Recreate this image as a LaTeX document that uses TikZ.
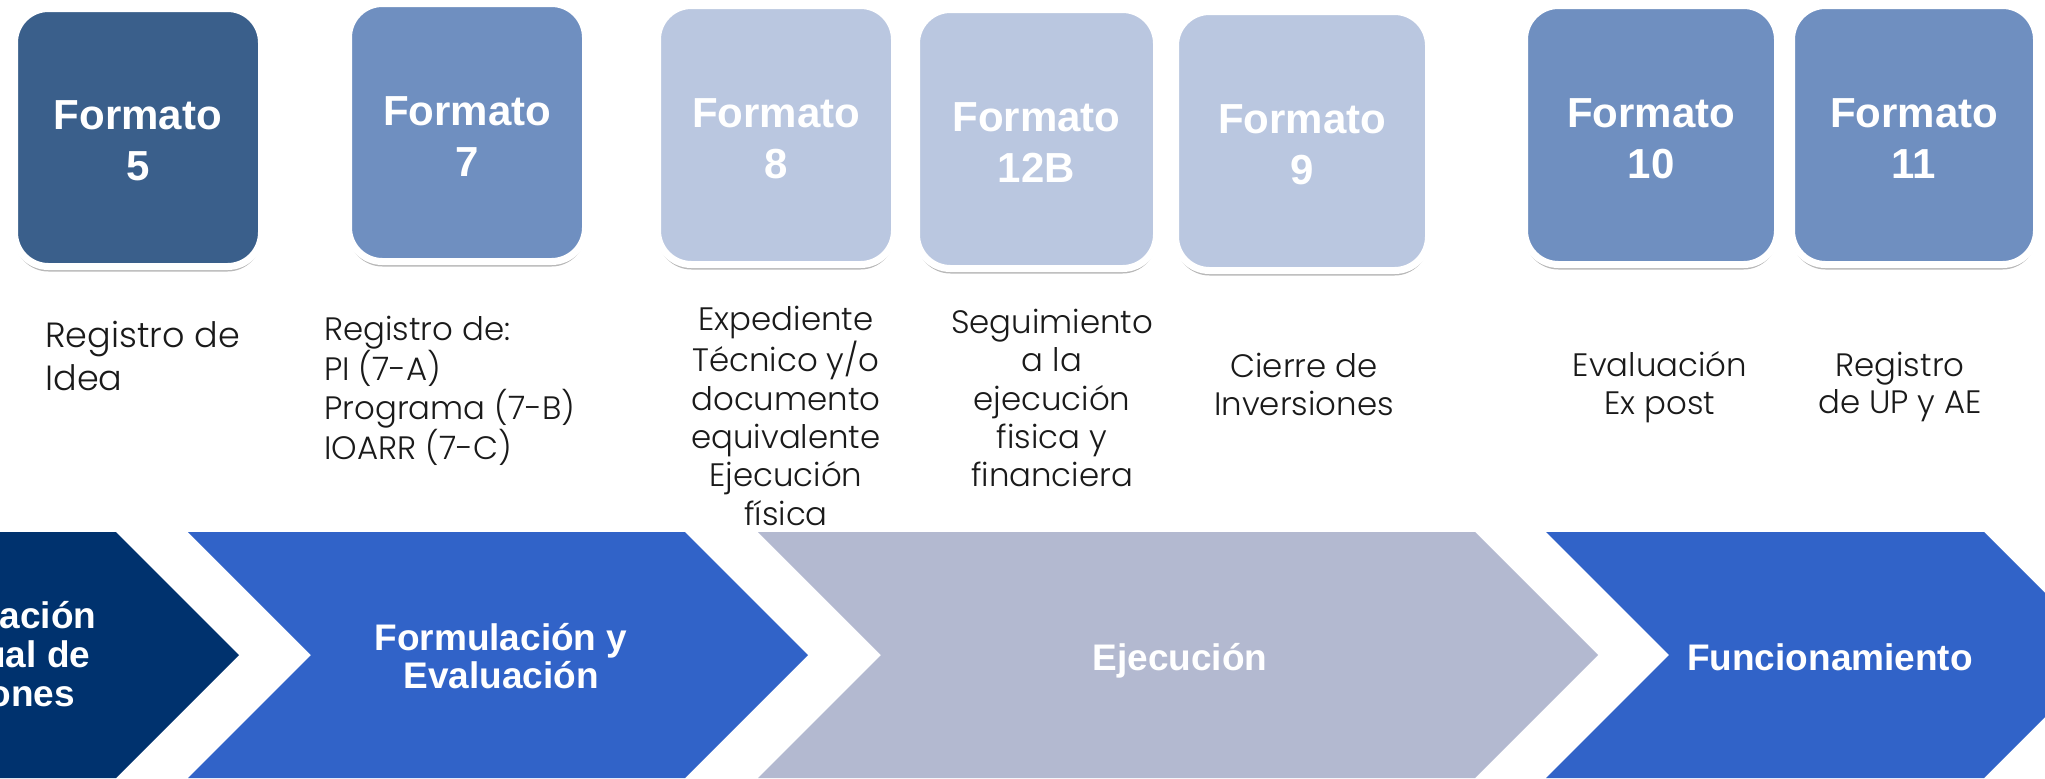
\documentclass[tikz,border=0pt]{standalone}
\usepackage{fontspec}
\setmainfont{Liberation Sans}
\IfFontExistsTF{Poppins Light}{\newfontfamily\capfont{Poppins Light}}{\newfontfamily\capfont{Poppins}}
\usetikzlibrary{shadows}
\definecolor{cFdark}{HTML}{3A5F8B}
\definecolor{cFmid}{HTML}{6F8FC0}
\definecolor{cFlight}{HTML}{BAC7E0}
\definecolor{cNavy}{HTML}{00326E}
\definecolor{cRoyal}{HTML}{3163C8}
\definecolor{cGrey}{HTML}{B3B9D0}
\definecolor{cText}{HTML}{1A1A1A}
\newcommand{\ftop}{\rule{0pt}{18pt}}
\begin{document}
\begin{tikzpicture}[x=0.5pt,y=-0.5pt,
  fbox/.style={rounded corners=17pt, draw=white, line width=3.5pt, inner sep=0pt,
    align=center, text=white, font=\bfseries\fontsize{21}{25.5}\selectfont,
    drop shadow={shadow xshift=0pt, shadow yshift=-2.5pt, opacity=0.28, fill=black}},
  capbig/.style={font=\capfont\fontsize{17.5}{21.5}\selectfont, text=cText, inner sep=0pt, align=left},
  capsm/.style={font=\capfont\fontsize{16.2}{19.2}\selectfont, text=cText, inner sep=0pt, align=center},
  chevtext/.style={text=white, font=\bfseries\fontsize{18.5}{19.3}\selectfont, align=center, inner sep=0pt}
]
\useasboundingbox (0,0) rectangle (2045,778);
\fill[white] (0,0) rectangle (2045,778);
\begin{scope}
\clip (0,0) rectangle (2045,778);
% chevrons
\fill[cNavy]  (-400,532) -- (116,532) -- (239,655) -- (116,778) -- (-400,778) -- cycle;
\fill[cRoyal] (188,532) -- (685,532) -- (808,655) -- (685,778) -- (188,778) -- (311,655) -- cycle;
\fill[cGrey]  (758,532) -- (1475,532) -- (1598,655) -- (1475,778) -- (758,778) -- (881,655) -- cycle;
\fill[cRoyal] (1546,532) -- (1984,532) -- (2107,655) -- (1984,778) -- (1546,778) -- (1669,655) -- cycle;
\node[chevtext] (p1) at (-28,654) {Programación\\Multianual de\\Inversiones};
\node[chevtext] (p2) at (501,656) {Formulación y\\Evaluación};
\node[chevtext, anchor=base] (p3) at (1180,670) {Ejecución};
\node[chevtext, anchor=base] (p4) at (1830,670) {Funcionamiento};
\end{scope}
% format boxes
\node[fbox, fill=cFdark,  minimum width=123.5pt, minimum height=129pt]   (f5)  at (138,137.5) {\ftop Formato\\5};
\node[fbox, fill=cFmid,   minimum width=118.5pt, minimum height=129pt]   (f7)  at (467,132.5) {\ftop Formato\\7};
\node[fbox, fill=cFlight, minimum width=118.5pt, minimum height=129.5pt] (f8)  at (776,135)   {\ftop Formato\\8};
\node[fbox, fill=cFlight, minimum width=120pt,   minimum height=129.5pt] (f12) at (1036.5,139) {\ftop Formato\\12B};
\node[fbox, fill=cFlight, minimum width=126.5pt, minimum height=129.5pt] (f9)  at (1302,141)  {\ftop Formato\\9};
\node[fbox, fill=cFmid,   minimum width=126.5pt, minimum height=129.5pt] (f10) at (1651,135)  {\ftop Formato\\10};
\node[fbox, fill=cFmid,   minimum width=122.5pt, minimum height=129.5pt] (f11) at (1914,135)  {\ftop Formato\\11};
% captions
\node[capbig, anchor=west] (c5) at (45,356) {Registro de\\Idea};
\node[capsm, align=left, anchor=west, font=\capfont\fontsize{16.2}{19.75}\selectfont] (c7) at (324,391) {Registro de:\\PI (7-A)\\Programa (7-B)\\IOARR (7-C)};
\node[capsm] (c8)  at (786,416) {Expediente\\Técnico y/o\\documento\\equivalente\\Ejecución\\física};
\node[capsm] (c12) at (1052,398) {Seguimiento\\a la\\ejecución\\fisica y\\financiera};
\node[capsm, font=\capfont\fontsize{16.2}{18.9}\selectfont] (c9)  at (1304,384.5) {Cierre de\\Inversiones};
\node[capsm, font=\capfont\fontsize{16.2}{18.9}\selectfont] (c10) at (1660,387) {Evaluación\\Ex post};
\node[capsm, font=\capfont\fontsize{16.2}{18.9}\selectfont] (c11) at (1900,387) {Registro\\de UP y AE};
\end{tikzpicture}
\end{document}
